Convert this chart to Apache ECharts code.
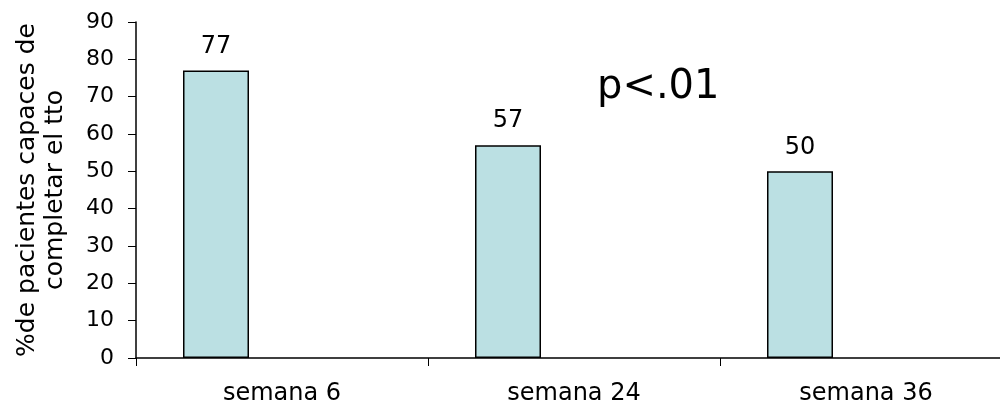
<!DOCTYPE html>
<html><head><meta charset="utf-8">
<script src="https://cdn.jsdelivr.net/npm/echarts@6/dist/echarts.min.js"></script>
<style>html,body{margin:0;padding:0;background:#fff}#c{width:1000px;height:404px}</style>
</head><body><div id="c"></div>
<script>
const categories = ['semana 6', 'semana 24', 'semana 36'];
const values = [77, 57, 50];
const yTicks = [0, 10, 20, 30, 40, 50, 60, 70, 80, 90];
const yTitle = '%de pacientes capaces de\ncompletar el tto';
const note = 'p<.01';

const chart = echarts.init(document.getElementById('c'), null, {renderer: 'canvas'});
const font = 'DejaVu Sans, Verdana, sans-serif';
chart.setOption({
  animation: false,
  backgroundColor: '#fff',
  grid: {left: 136, top: 22, width: 876, height: 336, containLabel: false, outerBoundsMode: 'none'},
  xAxis: {
    type: 'category', data: categories,
    axisLine: {lineStyle: {color: '#000', width: 1.5}},
    axisTick: {show: true, length: 8, lineStyle: {color: '#000'}},
    axisLabel: {color: '#000', fontSize: 24, fontFamily: font, margin: 24}
  },
  yAxis: {
    type: 'value', min: yTicks[0], max: yTicks[yTicks.length - 1], interval: 10,
    name: yTitle, nameLocation: 'middle', nameGap: 67, nameRotate: 90,
    nameTextStyle: {color: '#000', fontSize: 25, fontFamily: font, lineHeight: 28},
    axisLine: {show: true, lineStyle: {color: '#000', width: 1.5}},
    axisTick: {show: true, length: 8, lineStyle: {color: '#000'}},
    splitLine: {show: false},
    axisLabel: {color: '#000', fontSize: 22, fontFamily: font, margin: 22}
  },
  series: [
    {
      type: 'bar', data: values, barWidth: 66, barGap: '100%',
      itemStyle: {color: '#bbe0e3', borderColor: '#000', borderWidth: 1.5},
      label: {show: true, position: 'top', distance: 12, color: '#000', fontSize: 24, fontFamily: font}
    },
    {type: 'bar', data: values.map(() => null), barWidth: 66}
  ],
  graphic: [{
    type: 'text', left: 597, top: 68,
    style: {text: note, fontSize: 40, fontFamily: font, fill: '#000'}
  }]
});
</script></body></html>
